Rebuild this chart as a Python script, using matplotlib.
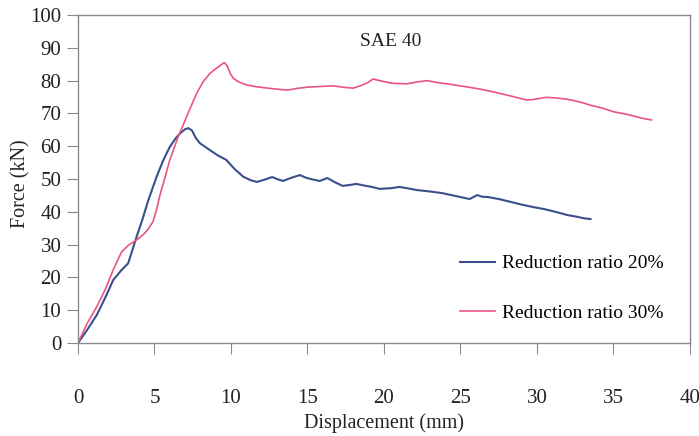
import matplotlib.pyplot as plt

# Reduction ratio 20% (blue)
x20 = [0, 0.6, 1.22, 1.8, 2.3, 2.8, 3.28, 3.83, 4.2, 4.6, 5.14, 5.58, 6.0, 6.4, 6.67,
       7.0, 7.21, 7.45, 7.7, 7.97, 8.63, 9.1, 9.7, 10.2, 10.8, 11.3, 11.7, 12.2, 12.7,
       13.0, 13.4, 13.9, 14.5, 14.9, 15.3, 15.8, 16.3, 16.8, 17.3, 17.8, 18.2, 18.7,
       19.2, 19.7, 20.5, 21.0, 21.5, 22.2, 23.0, 23.8, 24.5, 25.0, 25.6, 26.1, 26.4,
       26.8, 27.5, 28.3, 29.0, 29.8, 30.5, 31.2, 32.0, 32.6, 33.1, 33.5]
y20 = [0, 4.0, 8.5, 14.0, 19.2, 22.0, 24.3, 32.4, 37.5, 43.6, 50.7, 55.8, 59.8, 62.5,
       63.9, 65.2, 65.5, 64.8, 62.5, 60.9, 58.8, 57.3, 55.8, 53.2, 50.7, 49.6, 49.1,
       49.8, 50.6, 50.0, 49.4, 50.3, 51.2, 50.4, 49.9, 49.4, 50.3, 49.0, 47.9, 48.2,
       48.5, 48.0, 47.6, 47.0, 47.2, 47.6, 47.2, 46.6, 46.2, 45.7, 45.0, 44.5, 43.9,
       45.1, 44.6, 44.5, 43.9, 43.0, 42.2, 41.4, 40.8, 40.0, 39.0, 38.5, 38.0, 37.8]

# Reduction ratio 30% (red)
x30 = [0, 0.6, 1.22, 1.8, 2.3, 2.85, 3.3, 3.83, 4.3, 4.6, 4.9, 5.14, 5.35, 5.58, 6.0,
       6.55, 7.1, 7.75, 8.2, 8.63, 9.0, 9.3, 9.56, 9.75, 9.95, 10.15, 10.5, 11.0, 11.7,
       12.4, 13.0, 13.7, 14.3, 15.0, 15.8, 16.7, 17.3, 18.0, 18.5, 18.9, 19.3, 19.7,
       20.5, 21.5, 22.2, 22.8, 23.5, 24.3, 25.4, 26.3, 27.2, 28.2, 29.3, 29.7, 30.6,
       31.3, 32.0, 32.8, 33.5, 34.3, 35.0, 35.8, 36.5, 37.0, 37.5]
y30 = [0, 6.0, 11.0, 16.5, 22.3, 27.8, 29.8, 31.4, 33.2, 34.8, 37.0, 40.8, 45.0, 48.7,
       55.8, 62.9, 69.0, 76.1, 79.8, 82.2, 83.6, 84.6, 85.5, 84.5, 82.2, 80.7, 79.6,
       78.7, 78.1, 77.7, 77.4, 77.1, 77.6, 78.0, 78.2, 78.4, 78.0, 77.7, 78.5, 79.3,
       80.5, 80.0, 79.2, 79.0, 79.6, 80.0, 79.4, 78.9, 78.1, 77.4, 76.5, 75.4, 74.1,
       74.2, 74.9, 74.7, 74.3, 73.5, 72.5, 71.6, 70.5, 69.8, 69.0, 68.4, 68.0]

xticks = list(range(0, 45, 5))
yticks = list(range(0, 110, 10))

plt.rcParams['font.family'] = ['Liberation Serif', 'DejaVu Serif']

fig = plt.figure(figsize=(6.99, 4.36), dpi=100)
ax = fig.add_axes([0.1116, 0.2133, 0.8754, 0.7523])

ax.plot(x20, y20, color='#3a4f8c', lw=1.5, label='Reduction ratio 20%')
ax.plot(x30, y30, color='#e8557d', lw=1.2, label='Reduction ratio 30%')

ax.set_xlim(0, 40)
ax.set_ylim(0, 100)
ax.set_xticks(xticks)
ax.set_yticks(yticks)
for s in ax.spines.values():
    s.set_color('#8a8a8a')
    s.set_linewidth(1.0)
ax.tick_params(axis='x', direction='out', length=8, color='#8a8a8a', pad=25,
               labelcolor='#222222', labelsize=15)
ax.tick_params(axis='y', direction='out', length=8, color='#8a8a8a', pad=4,
               labelcolor='#222222', labelsize=15)

ax.set_xlabel('Displacement (mm)', labelpad=4, color='#222222', fontsize=14.5)
ax.set_ylabel('Force (kN)', color='#222222', fontsize=14.5)
ax.yaxis.set_label_coords(-0.078, 0.485)

ax.text(20.45, 91.9, 'SAE 40', ha='center', va='center', color='#222222', fontsize=14)

ax.legend(loc='upper left', bbox_to_anchor=(0.596, 0.322), frameon=False, fontsize=14,
          handlelength=1.8, handletextpad=0.36, labelspacing=1.64)

fig.savefig('out.png', dpi=100)
